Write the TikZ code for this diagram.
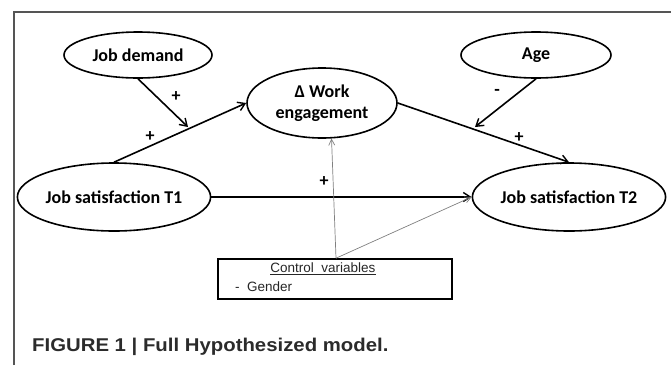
\documentclass[tikz,border=0pt]{standalone}
\usepackage{fontspec}
\setmainfont{Carlito}
\newfontfamily\boxfont{Liberation Sans}
\newfontfamily\capfont[FakeStretch=1.1]{Liberation Sans}
\usetikzlibrary{shapes.geometric,arrows.meta}
\definecolor{framegray}{HTML}{555555}
\definecolor{capgray}{HTML}{2B2B2B}
\tikzset{
  latent/.style={draw=black, line width=1.6pt, ellipse, inner sep=0pt, font=\fontsize{18}{21}\selectfont\bfseries, align=center},
  mainarrow/.style={line width=1.6pt, -{Straight Barb[length=7pt,width=9pt,line width=1.4pt]}},
  thinarrow/.style={draw=gray, line width=0.7pt, -{Straight Barb[length=6pt,width=6pt,line width=0.7pt]}},
  sign/.style={font=\fontsize{18}{20}\selectfont\bfseries, inner sep=0pt},
  ctrlbox/.style={draw=black, line width=1.6pt, minimum width=234pt, minimum height=40pt, inner sep=0pt},
  boxtext/.style={font=\boxfont\fontsize{13.5}{15}\selectfont, text=black!85, inner sep=0pt},
}
\begin{document}
\begin{tikzpicture}[x=1pt,y=-1pt]
\useasboundingbox (0,0) rectangle (671,365);
\draw[framegray, line width=1.3pt] (14,365) -- (14,12) -- (671,12);

\node[latent, minimum width=148pt, minimum height=46pt] (jd) at (138,55) {Job demand};
\node[latent, minimum width=150pt, minimum height=46pt] (age) at (536,55) {Age};
\node[latent, minimum width=150pt, minimum height=70pt] (we) at (322,103) {Δ Work\\engagement};
\node[latent, minimum width=150pt, minimum height=68pt] (t1) at (114,197) {Job satisfaction T1};
\node[latent, minimum width=149pt, minimum height=68pt] (t2) at (569,197) {Job satisfaction T2};

\node[ctrlbox] (box) at (335,279) {};
\node[boxtext] (ctrl) at (323,269) {\underline{Control\ \ variables}};
\node[boxtext, anchor=west] (gender) at (235,287) {-\ \ Gender};

\coordinate (jdend) at (188,127);
\coordinate (ageend) at (475,127);

\draw[mainarrow] (t1.north) -- (we.west);
\draw[mainarrow] (jd.south) -- (jdend);
\draw[mainarrow] (we.east) -- (t2.north);
\draw[mainarrow] (age.south) -- (ageend);
\draw[mainarrow] (t1.east) -- (t2.west);
\draw[thinarrow] ([xshift=1pt]box.north) -- (we.-75);
\draw[thinarrow] ([xshift=1pt]box.north) -- (t2.west);

\node[sign] (p1) at (176,97) {+};
\node[sign] (p2) at (150,137) {+};
\node[sign] (m1) at (497,92) {-};
\node[sign] (p3) at (519,138) {+};
\node[sign] (p4) at (324,182) {+};

\node[anchor=west, inner sep=0pt, text=capgray, font=\capfont\bfseries\fontsize{18.5}{20}\selectfont] (cap) at (32,347) {FIGURE 1 | Full Hypothesized model.};
\end{tikzpicture}
\end{document}
